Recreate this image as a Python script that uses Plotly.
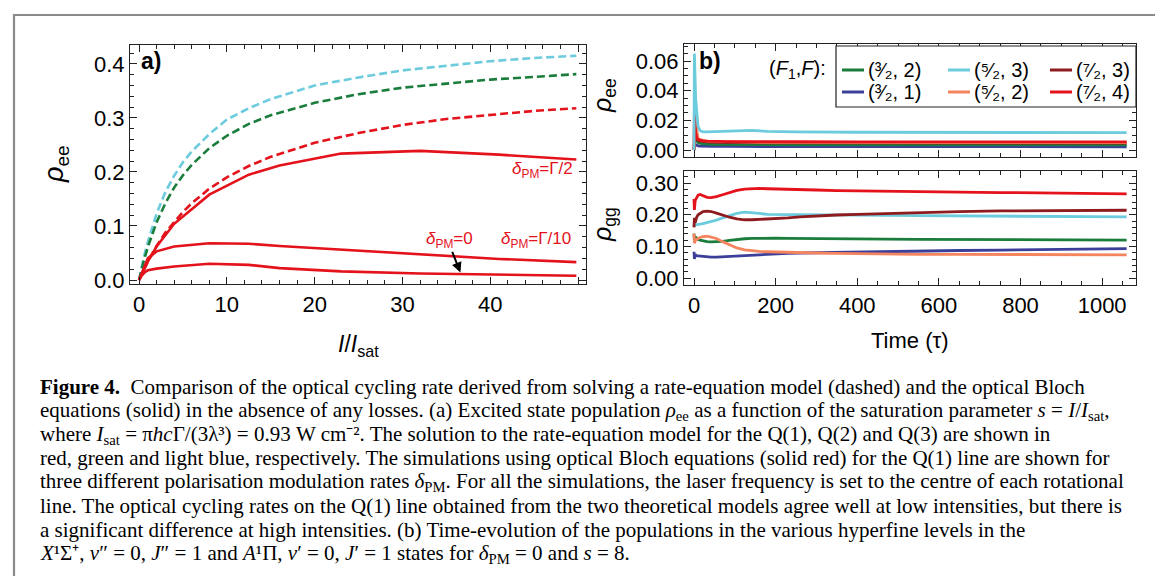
import plotly.graph_objects as go

W, H = 1163, 576
def px(x): return x / W
def py(y): return 1 - y / H

# ---------------- Panel a data ----------------
s_rate = [0, 0.25, 0.5, 1, 1.5, 2, 3, 4, 5, 6, 8, 10, 12.5, 15, 20, 25, 30, 35, 40, 45, 49.8]
q3_rate = [0, 0.020, 0.040, 0.070, 0.099, 0.123, 0.163, 0.193, 0.218, 0.238, 0.270, 0.297, 0.318, 0.335, 0.360, 0.375, 0.388, 0.397, 0.405, 0.411, 0.415]
q2_rate = [0, 0.017, 0.033, 0.061, 0.085, 0.107, 0.142, 0.171, 0.194, 0.213, 0.244, 0.267, 0.289, 0.305, 0.328, 0.344, 0.356, 0.364, 0.371, 0.376, 0.381]
q1_rate = [0, 0.009, 0.018, 0.034, 0.049, 0.063, 0.088, 0.108, 0.126, 0.142, 0.169, 0.190, 0.211, 0.228, 0.254, 0.272, 0.287, 0.298, 0.306, 0.313, 0.318]

s_obe = [0, 0.3, 0.7, 1, 2, 4, 8, 12.5, 16, 23, 32, 41, 49.8]
obe_half = [0, 0.011, 0.025, 0.034, 0.062, 0.104, 0.158, 0.195, 0.212, 0.234, 0.239, 0.232, 0.223]
obe_tenth = [0, 0.012, 0.030, 0.040, 0.053, 0.062, 0.068, 0.067, 0.063, 0.056, 0.047, 0.039, 0.033]
obe_zero = [0, 0.008, 0.015, 0.018, 0.021, 0.025, 0.030, 0.028, 0.022, 0.016, 0.012, 0.010, 0.008]

# ---------------- Panel b data ----------------
t_ee = [0, 1, 2, 4, 7, 10, 15, 22, 32, 50, 80, 105, 142, 180, 250, 400, 600, 800, 1060]
ee_53 = [0, 0.065, 0.055, 0.035, 0.022, 0.016, 0.013, 0.0123, 0.0122, 0.0123, 0.0127, 0.0129, 0.0132, 0.0126, 0.0122, 0.0120, 0.0119, 0.0118, 0.0117]
ee_74 = [0, 0.027, 0.020, 0.012, 0.008, 0.007, 0.0065, 0.0062, 0.0060, 0.0058, 0.0057, 0.0057, 0.0056, 0.0056, 0.0056, 0.0055, 0.0055, 0.0055, 0.0055]
ee_52 = [0, 0.012, 0.025, 0.018, 0.011, 0.008, 0.007, 0.0065, 0.0060, 0.0058, 0.0055, 0.0054, 0.0053, 0.0052, 0.0051, 0.0050, 0.0050, 0.0050, 0.0050]
ee_73 = [0, 0.008, 0.010, 0.008, 0.007, 0.0065, 0.006, 0.0057, 0.0055, 0.0052, 0.0050, 0.0049, 0.0048, 0.0048, 0.0048, 0.0047, 0.0047, 0.0047, 0.0047]
ee_32 = [0, 0.004, 0.006, 0.007, 0.006, 0.005, 0.0045, 0.0042, 0.0040, 0.0038, 0.0037, 0.0036, 0.0036, 0.0036, 0.0035, 0.0035, 0.0035, 0.0035, 0.0035]
ee_31 = [0, 0.003, 0.004, 0.0035, 0.003, 0.0028, 0.0027, 0.0026, 0.0025, 0.0025, 0.0024, 0.0024, 0.0024, 0.0023, 0.0023, 0.0023, 0.0022, 0.0022, 0.0022]

t_gg = [0, 1, 3, 6, 10, 15, 22, 32, 42, 55, 70, 87, 105, 124, 142, 160, 180, 200, 230, 260, 300, 350, 400, 470, 550, 650, 750, 850, 950, 1060]
gg_74 = [0.25, 0.215, 0.245, 0.255, 0.262, 0.264, 0.260, 0.255, 0.254, 0.257, 0.263, 0.270, 0.277, 0.281, 0.283, 0.283, 0.282, 0.281, 0.280, 0.279, 0.278, 0.276, 0.275, 0.273, 0.272, 0.271, 0.270, 0.268, 0.267, 0.266]
gg_73 = [0.16, 0.19, 0.175, 0.19, 0.200, 0.205, 0.210, 0.211, 0.210, 0.205, 0.198, 0.192, 0.187, 0.184, 0.184, 0.185, 0.186, 0.188, 0.190, 0.193, 0.196, 0.199, 0.201, 0.204, 0.207, 0.210, 0.212, 0.213, 0.214, 0.214]
gg_53 = [0.17, 0.165, 0.168, 0.168, 0.169, 0.170, 0.172, 0.175, 0.178, 0.183, 0.190, 0.197, 0.204, 0.208, 0.207, 0.204, 0.201, 0.200, 0.200, 0.200, 0.200, 0.200, 0.199, 0.198, 0.197, 0.196, 0.195, 0.194, 0.194, 0.193]
gg_32 = [0.14, 0.12, 0.13, 0.125, 0.122, 0.120, 0.117, 0.115, 0.114, 0.114, 0.116, 0.119, 0.122, 0.124, 0.125, 0.126, 0.126, 0.126, 0.125, 0.125, 0.124, 0.124, 0.123, 0.123, 0.122, 0.122, 0.121, 0.121, 0.120, 0.120]
gg_52 = [0.14, 0.11, 0.118, 0.122, 0.125, 0.128, 0.131, 0.132, 0.130, 0.125, 0.115, 0.104, 0.095, 0.089, 0.086, 0.084, 0.083, 0.082, 0.081, 0.080, 0.079, 0.078, 0.077, 0.076, 0.075, 0.075, 0.074, 0.074, 0.073, 0.073]
gg_31 = [0.083, 0.060, 0.075, 0.070, 0.070, 0.069, 0.068, 0.067, 0.066, 0.066, 0.067, 0.068, 0.070, 0.072, 0.073, 0.075, 0.076, 0.077, 0.078, 0.079, 0.080, 0.081, 0.082, 0.084, 0.085, 0.087, 0.088, 0.090, 0.091, 0.093]

legend_names = ["(³⁄₂, 2)", "(⁵⁄₂, 3)", "(⁷⁄₂, 3)", "(³⁄₂, 1)", "(⁵⁄₂, 2)", "(⁷⁄₂, 4)"]

RED = "#e3121b"
GREEN = "#1b7d3c"
LBLUE = "#6ccbdd"
DRED = "#8e1c1f"
BLUE = "#3b3f9a"
ORANGE = "#f4855f"

fig = go.Figure()

# panel a
fig.add_trace(go.Scatter(x=s_rate, y=q3_rate, mode="lines", line=dict(color=LBLUE, width=2.6, dash="8px,4px"), showlegend=False, xaxis="x", yaxis="y"))
fig.add_trace(go.Scatter(x=s_rate, y=q2_rate, mode="lines", line=dict(color=GREEN, width=2.6, dash="8px,4px"), showlegend=False, xaxis="x", yaxis="y"))
fig.add_trace(go.Scatter(x=s_rate, y=q1_rate, mode="lines", line=dict(color=RED, width=2.6, dash="8px,4px"), showlegend=False, xaxis="x", yaxis="y"))
for yy in (obe_half, obe_tenth, obe_zero):
    fig.add_trace(go.Scatter(x=s_obe, y=yy, mode="lines", line=dict(color=RED, width=2.6), showlegend=False, xaxis="x", yaxis="y"))

# panel b
series_ee = [ee_32, ee_53, ee_73, ee_31, ee_52, ee_74]
series_gg = [gg_32, gg_53, gg_73, gg_31, gg_52, gg_74]
colors = [GREEN, LBLUE, DRED, BLUE, ORANGE, RED]
draw_order = [3, 0, 2, 4, 5, 1]
for i in draw_order:
    fig.add_trace(go.Scatter(x=t_ee, y=series_ee[i], mode="lines", line=dict(color=colors[i], width=2.8), showlegend=False, xaxis="x2", yaxis="y2"))
for i in range(6):
    fig.add_trace(go.Scatter(x=t_gg, y=series_gg[i], mode="lines", name=legend_names[i], line=dict(color=colors[i], width=2.8), showlegend=False, xaxis="x3", yaxis="y3"))

sans = "Liberation Sans, Arial"
axis_common = dict(showline=True, linecolor="#222", linewidth=1.2, mirror="allticks", ticks="inside",
                   ticklen=7, tickwidth=1.1, tickcolor="#222", showgrid=False, zeroline=False,
                   tickfont=dict(family=sans, size=22, color="black"))
minor_style = dict(ticks="inside", ticklen=4, tickcolor="#222", tickwidth=1)

fig.update_layout(
    width=W, height=H, margin=dict(l=0, r=0, t=0, b=0, autoexpand=False),
    paper_bgcolor="white", plot_bgcolor="white", showlegend=False,
    xaxis=dict(axis_common, domain=[px(122), px(578)], range=[-1.03, 50.9], anchor="y",
               tickvals=[0, 10, 20, 30, 40, 50], ticktext=["0", "10", "20", "30", "40", ""],
               minor=dict(minor_style, dtick=2)),
    yaxis=dict(axis_common, domain=[py(276), py(37)], range=[-0.0074, 0.435], anchor="x",
               dtick=0.1, tickformat=".1f", minor=dict(minor_style, dtick=0.02)),
    xaxis2=dict(axis_common, domain=[px(676), px(1128)], range=[-24.5, 1083], anchor="y2",
                dtick=200, showticklabels=False, minor=dict(minor_style, dtick=50)),
    yaxis2=dict(axis_common, domain=[py(149), py(36)], range=[-0.0047, 0.0715], anchor="x2",
                dtick=0.02, tickformat=".2f", minor=dict(minor_style, dtick=0.005)),
    xaxis3=dict(axis_common, domain=[px(676), px(1128)], range=[-24.5, 1083], anchor="y3",
                dtick=200, minor=dict(minor_style, dtick=50)),
    yaxis3=dict(axis_common, domain=[py(277), py(163)], range=[-0.022, 0.338], anchor="x3",
                dtick=0.1, tickformat=".2f", minor=dict(minor_style, dtick=0.02)),
)

ann = []
def A(x, y, text, size, **kw):
    d = dict(x=px(x), y=py(y), xref="paper", yref="paper", text=text, showarrow=False,
             xanchor="center", yanchor="middle",
             font=dict(family=kw.pop("family", sans), size=size, color=kw.pop("color", "black")))
    d.update(kw)
    ann.append(d)

A(143, 53, "<b>a)</b>", 23)
A(702, 53, "<b>b)</b>", 23)
A(48, 157, "<i>ρ</i><sub>ee</sub>", 27, textangle=-90)
A(596, 88, "<i>ρ</i><sub>ee</sub>", 25, textangle=-90)
A(596, 217, "<i>ρ</i><sub>gg</sub>", 25, textangle=-90)
A(350, 337, "<i>I</i>/<i>I</i><sub>sat</sub>", 23)
A(902, 332, "Time (τ)", 22)
A(789, 62, "(<i>F</i><sub>1</sub>,<i>F</i>):", 20)

# manual legend: box, samples and labels
shapes = []
shapes.append(dict(type="rect", xref="paper", yref="paper", x0=px(828), x1=px(1128), y0=py(99), y1=py(38),
                   line=dict(color="#222", width=1.2), fillcolor="white", layer="above"))
col_x = [834, 940, 1042]
row_y = [62, 84]
for i in range(6):
    cx = col_x[i % 3]
    ry = row_y[i // 3]
    shapes.append(dict(type="line", xref="paper", yref="paper", x0=px(cx), x1=px(cx + 22), y0=py(ry), y1=py(ry),
                       line=dict(color=colors[i], width=3), layer="above"))
    A(cx + 24, ry, legend_names[i], 20, xanchor="left")

# caption
serif = "Liberation Serif, Times New Roman, serif"
caption = [
    "<b>Figure 4.</b>  Comparison of the optical cycling rate derived from solving a rate-equation model (dashed) and the optical Bloch",
    "equations (solid) in the absence of any losses. (a) Excited state population <i>ρ</i><sub>ee</sub> as a function of the saturation parameter <i>s</i> = <i>I</i>/<i>I</i><sub>sat</sub>,",
    "where <i>I</i><sub>sat</sub> = π<i>hc</i>Γ/(3λ³) = 0.93 W cm⁻². The solution to the rate-equation model for the Q(1), Q(2) and Q(3) are shown in",
    "red, green and light blue, respectively. The simulations using optical Bloch equations (solid red) for the Q(1) line are shown for",
    "three different polarisation modulation rates <i>δ</i><sub>PM</sub>. For all the simulations, the laser frequency is set to the centre of each rotational",
    "line. The optical cycling rates on the Q(1) line obtained from the two theoretical models agree well at low intensities, but there is",
    "a significant difference at high intensities. (b) Time-evolution of the populations in the various hyperfine levels in the",
    "<i>X</i>¹Σ⁺, <i>v</i>″ = 0, <i>J</i>″ = 1 and <i>A</i>¹Π, <i>v</i>′ = 0, <i>J</i>′ = 1 states for <i>δ</i><sub>PM</sub> = 0 and <i>s</i> = 8.",
]
for k, line in enumerate(caption):
    A(30, 379 + k * 23.8, line, 21, family=serif, xanchor="left")

# in-plot labels (data coords)
data_ann = [
    dict(x=46.0, y=0.204, text="<i>δ</i><sub>PM</sub>=Γ/2"),
    dict(x=35.4, y=0.074, text="<i>δ</i><sub>PM</sub>=0"),
    dict(x=45.2, y=0.074, text="<i>δ</i><sub>PM</sub>=Γ/10"),
]
for d in data_ann:
    ann.append(dict(x=d["x"], y=d["y"], xref="x", yref="y", text=d["text"], showarrow=False,
                    xanchor="center", yanchor="middle",
                    font=dict(family=sans, size=17, color=RED)))
ann.append(dict(x=36.6, y=0.014, ax=35.6, ay=0.055, xref="x", yref="y", axref="x", ayref="y",
                text="", showarrow=True, arrowhead=2, arrowsize=1, arrowwidth=2, arrowcolor="black"))

# outer grey frame (kept inside the page)
shapes.append(dict(type="path", xref="paper", yref="paper",
                   path=f"M {px(6)} 0 L {px(6)} {py(7)} L {px(1158)} {py(7)} L {px(1158)} 0",
                   line=dict(color="#8a8a8a", width=2.2)))

fig.update_layout(annotations=ann, shapes=shapes)

fig.write_html("out.html")
